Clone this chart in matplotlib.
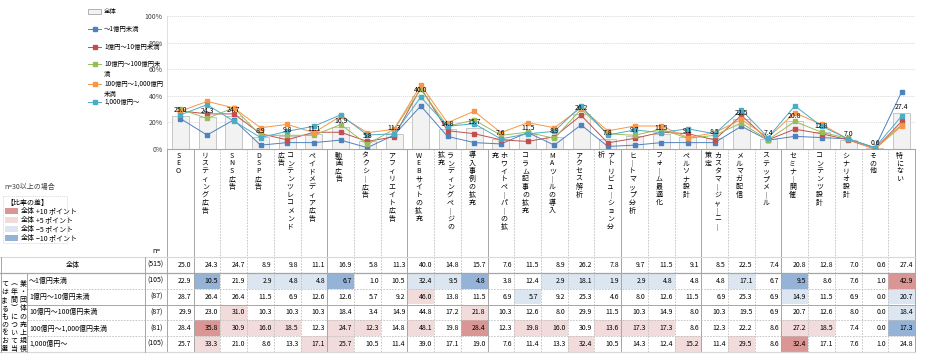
import matplotlib
matplotlib.use('Agg')
import matplotlib.pyplot as plt
from matplotlib.patches import Rectangle
import numpy as np

plt.rcParams['font.family'] = ['Noto Sans CJK JP', 'DejaVu Sans']

# ---------------- data ----------------
categories = ['SEO', 'リスティング広告', 'SNS広告', 'DSP広告', 'コンテンツレコメンド広告',
              'ペイドメディア広告', '動画広告', 'タクシー広告', 'アフィリエイト広告',
              'WEBサイトの拡充', 'ランディングページの拡充', '導入事例の拡充',
              'ホワイトペーパーの拡充', 'コラム記事の拡充', 'MAツールの導入', 'アクセス解析',
              'アトリビューション分析', 'ヒートマップ分析', 'フォーム最適化', 'ペルソナ設計',
              'カスタマージャーニー策定', 'メルマガ配信', 'ステップメール', 'セミナー開催',
              'コンテンツ設計', 'シナリオ設計', 'その他', '特にない']

group_labels = ['全体', '～1億円未満', '1億円～10億円未満', '10億円～100億円未満',
                '100億円～1,000億円未満', '1,000億円～']
group_n = [515, 105, 87, 87, 81, 105]

total = [25.0, 24.3, 24.7, 8.9, 9.8, 11.1, 16.9, 5.8, 11.3, 40.0, 14.8, 15.7, 7.6, 11.5,
         8.9, 26.2, 7.8, 9.7, 11.5, 9.1, 8.5, 22.5, 7.4, 20.8, 12.8, 7.0, 0.6, 27.4]
g_under1 = [22.9, 10.5, 21.9, 2.9, 4.8, 4.8, 6.7, 1.0, 10.5, 32.4, 9.5, 4.8, 3.8, 12.4,
            2.9, 18.1, 1.9, 2.9, 4.8, 4.8, 4.8, 17.1, 6.7, 9.5, 8.6, 7.6, 1.0, 42.9]
g_1_10 = [28.7, 26.4, 26.4, 11.5, 6.9, 12.6, 12.6, 5.7, 9.2, 46.0, 13.8, 11.5, 6.9, 5.7,
          9.2, 25.3, 4.6, 8.0, 12.6, 11.5, 6.9, 25.3, 6.9, 14.9, 11.5, 6.9, 0.0, 20.7]
g_10_100 = [29.9, 23.0, 31.0, 10.3, 10.3, 10.3, 18.4, 3.4, 14.9, 44.8, 17.2, 21.8, 10.3, 12.6,
            8.0, 29.9, 11.5, 10.3, 14.9, 8.0, 10.3, 19.5, 6.9, 20.7, 12.6, 8.0, 0.0, 18.4]
g_100_1000 = [28.4, 35.8, 30.9, 16.0, 18.5, 12.3, 24.7, 12.3, 14.8, 48.1, 19.8, 28.4, 12.3, 19.8,
              16.0, 30.9, 13.6, 17.3, 17.3, 8.6, 12.3, 22.2, 8.6, 27.2, 18.5, 7.4, 0.0, 17.3]
g_over1000 = [25.7, 33.3, 21.0, 8.6, 13.3, 17.1, 25.7, 10.5, 11.4, 39.0, 17.1, 19.0, 7.6, 11.4,
              13.3, 32.4, 10.5, 14.3, 12.4, 15.2, 11.4, 29.5, 8.6, 32.4, 17.1, 7.6, 1.0, 24.8]

groups = [g_under1, g_1_10, g_10_100, g_100_1000, g_over1000]
yticks = [0, 20, 40, 60, 80, 100]

# ---------------- styles ----------------
line_colors = ['#4F81BD', '#C0504D', '#9BBB59', '#F79646', '#4BACC6']
c_dr, c_lp, c_lb, c_db = '#DA9694', '#F2DCDB', '#DCE6F1', '#95B3D7'
GRID = '#D9D9D9'
SOLID = '#A6A6A6'
DASH = '#BFBFBF'
FS = 5
LFS = 4.6

W, H = 936, 362
X0, X1 = 167, 915
Y_TOP, Y_AX = 16, 149
T_TOP, T_BOT = 257, 352
ncat = len(categories)
colw = (X1 - X0) / ncat

fig = plt.figure(figsize=(W / 100, H / 100), dpi=100)
fig.patch.set_facecolor('white')

# ---------------- main chart ----------------
ax = fig.add_axes([X0 / W, 1 - Y_AX / H, (X1 - X0) / W, (Y_AX - Y_TOP) / H])
x = np.arange(ncat)
ax.set_xlim(-0.5, ncat - 0.5)
ax.set_ylim(0, 100)
ax.bar(x, total, width=0.64, color='#F2F2F2', edgecolor='#BFBFBF', linewidth=0.6, zorder=2)
for g, c in zip(groups, line_colors):
    ax.plot(x, g, color=c, linewidth=0.7, marker='s', markersize=2.3, zorder=3)
for xi, v in zip(x, total):
    ax.annotate(f'{v:.1f}', (xi, v), xytext=(0, 1.2), textcoords='offset points',
                ha='center', va='bottom', fontsize=FS, color='#000000', zorder=4)
ax.set_yticks(yticks)
ax.set_yticklabels([f'{t}%' for t in yticks], fontsize=FS, color='#404040')
ax.set_xticks([])
ax.tick_params(axis='y', length=0, pad=3)
for t in yticks[1:]:
    ax.axhline(t, color=GRID, linewidth=0.6, linestyle=(0, (1.5, 1)), zorder=1)
for s in ['top', 'right']:
    ax.spines[s].set_visible(False)
ax.spines['left'].set_color('#D9D9D9')
ax.spines['left'].set_linewidth(0.6)
ax.spines['bottom'].set_color(SOLID)
ax.spines['bottom'].set_linewidth(0.8)

# ---------------- table cells ----------------
tax = fig.add_axes([X0 / W, 1 - T_BOT / H, (X1 - X0) / W, (T_BOT - T_TOP) / H])
tax.set_xlim(-0.5, ncat - 0.5)
tax.set_ylim(6, 0)
tax.axis('off')
rows = [total] + groups
for j, row in enumerate(rows):
    for i, v in enumerate(row):
        if j > 0:
            d = round(v - total[i], 1)
            fc = None
            if d >= 10:
                fc = c_dr
            elif d > 5:
                fc = c_lp
            elif d <= -10:
                fc = c_db
            elif d <= -5:
                fc = c_lb
            if fc:
                tax.add_patch(Rectangle((i - 0.5, j), 1, 1, facecolor=fc, edgecolor='none'))
        tax.text(i + 0.42, j + 0.5, f'{v:.1f}', ha='right', va='center', fontsize=FS,
                 color='#000000')

# ---------------- overlay (pixel coords) ----------------
ov = fig.add_axes([0, 0, 1, 1], zorder=5)
ov.set_xlim(0, W)
ov.set_ylim(H, 0)
ov.axis('off')
ov.patch.set_alpha(0)

row_y = np.linspace(T_TOP, T_BOT, 7)

# column dividers
solid_k = {1, 6, 9, 12, 17, 20, 23}
for k in range(1, ncat):
    xx = X0 + k * colw
    if k in solid_k:
        ov.plot([xx, xx], [Y_AX, T_BOT], color=SOLID, linewidth=0.7)
    else:
        ov.plot([xx, xx], [Y_AX, T_BOT], color=DASH, linewidth=0.6, linestyle=(0, (2, 1.5)))
ov.plot([X0, X0], [Y_AX, T_BOT], color=SOLID, linewidth=0.7)
ov.plot([X1, X1], [Y_AX, T_BOT], color=SOLID, linewidth=0.7)

# horizontal table lines
ov.plot([0, X1], [row_y[0], row_y[0]], color=GRID, linewidth=0.8)
ov.plot([0, X1], [row_y[1], row_y[1]], color=SOLID, linewidth=0.9)
ov.plot([27, X1], [row_y[2], row_y[2]], color=DASH, linewidth=0.6, linestyle=(0, (2, 1.5)))
ov.plot([27, X1], [row_y[3], row_y[3]], color=SOLID, linewidth=0.7)
ov.plot([27, X1], [row_y[4], row_y[4]], color=DASH, linewidth=0.6, linestyle=(0, (2, 1.5)))
ov.plot([27, X1], [row_y[5], row_y[5]], color=DASH, linewidth=0.6, linestyle=(0, (2, 1.5)))
ov.plot([0, X1], [row_y[6], row_y[6]], color=GRID, linewidth=0.9)
ov.plot([0.6, 0.6], [row_y[0], row_y[6]], color=SOLID, linewidth=0.7)
ov.plot([27, 27], [row_y[1], row_y[6]], color=SOLID, linewidth=0.7)
ov.plot([145, 145], [row_y[0], row_y[6]], color=SOLID, linewidth=0.7)

# category labels (vertical)
def vert(s):
    return s.replace('ー', '｜')

pitch = 7.9
for i, cat in enumerate(categories):
    cx = X0 + (i + 0.5) * colw
    s = vert(cat)
    if len(s) > 10:
        cols = [(cx + 3.0, s[:10]), (cx - 6.0, s[10:])]
    else:
        cols = [(cx - 2.0, s)]
    for px, txt in cols:
        for m, ch in enumerate(txt):
            ov.text(px, 155.5 + m * pitch, ch, ha='center', va='center', fontsize=FS,
                    color='#000000')

ov.text(152, 251, 'n=', ha='left', va='center', fontsize=FS, color='#000000')

# row labels & n
for j, (lab, n) in enumerate(zip(group_labels, group_n)):
    yc = (row_y[j] + row_y[j + 1]) / 2
    if j == 0:
        ov.text(73, yc, lab, ha='center', va='center', fontsize=FS)
    else:
        ov.text(29, yc, lab, ha='left', va='center', fontsize=FS)
    ov.text(163, yc, f'({n})', ha='right', va='center', fontsize=FS)

# vertical side label
side_cols = [(23, '業・団体の売上規模'), (14, '︵年間︶について当'), (4.5, 'てはまるものをお選')]
for px, txt in side_cols:
    for m, ch in enumerate(txt):
        ov.text(px, 284 + m * 8.1, ch, ha='center', va='center', fontsize=FS)

# top legend
ov.add_patch(Rectangle((88, 9), 13, 4.5, facecolor='#F2F2F2', edgecolor='#A6A6A6', linewidth=0.6))
ov.text(104, 11, group_labels[0], ha='left', va='center', fontsize=LFS)
leg_rows = [(29, ['～1億円未満']), (47, ['1億円～10億円未満']), (64, ['10億円～100億円未', '満']),
            (84, ['100億円～1,000億円', '未満']), (102, ['1,000億円～'])]
for (yy, lines), c in zip(leg_rows, line_colors):
    ov.plot([88, 101], [yy, yy], color=c, linewidth=0.7)
    ov.plot([94.5], [yy], marker='s', markersize=2.3, color=c)
    for m, ln in enumerate(lines):
        ov.text(104, yy + m * 10, ln, ha='left', va='center', fontsize=LFS)

# highlight legend
ov.text(4, 187, 'n=30以上の場合', ha='left', va='center', fontsize=FS, color='#404040')
ov.add_patch(Rectangle((3, 196), 64, 47, facecolor='none', edgecolor='#D9D9D9', linewidth=0.6,
                       linestyle=(0, (1.5, 1))))
ov.text(6, 203, '【比率の差】', ha='left', va='center', fontsize=FS)
hl = [(211, c_dr, '+10'), (220, c_lp, '+5'), (229, c_lb, '−5'), (238, c_db, '−10')]
for yy, c, t in hl:
    ov.add_patch(Rectangle((5, yy - 3), 13, 6, facecolor=c, edgecolor='none'))
    ov.text(21, yy, '全体', ha='left', va='center', fontsize=FS)
    ov.text(36, yy, t + ' ポイント', ha='left', va='center', fontsize=FS)

fig.savefig('out.png', dpi=100)
